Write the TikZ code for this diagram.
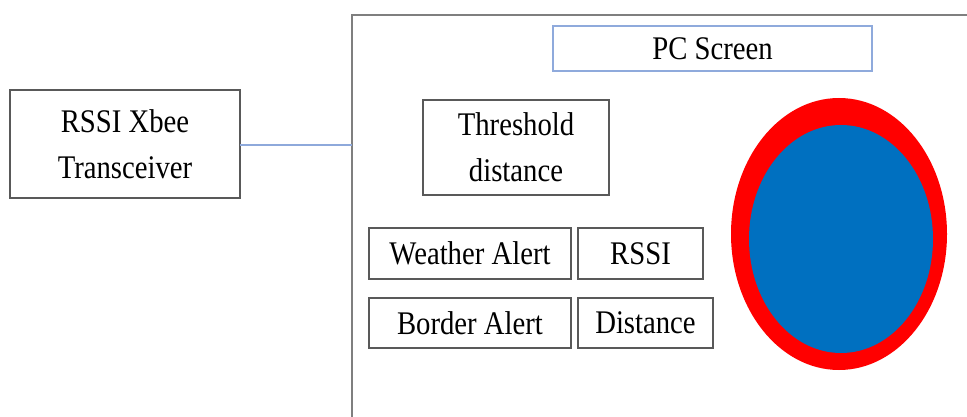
\documentclass[tikz,border=0pt]{standalone}
\usepackage{fontspec}
\setmainfont{Liberation Serif}[FakeStretch=0.87]
\usetikzlibrary{positioning}
\definecolor{boxgray}{HTML}{595959}
\definecolor{framegray}{HTML}{7F7F7F}
\definecolor{linkblue}{HTML}{8EA9DB}
\definecolor{screenblue}{HTML}{8FAADC}
\definecolor{ringred}{HTML}{FF0000}
\definecolor{discblue}{HTML}{0070C0}
\begin{document}
\begin{tikzpicture}[x=1pt,y=-1pt,
  txt/.style={font=\fontsize{33}{46}\selectfont, align=center, inner sep=0pt},
  tbox/.style={draw=boxgray, line width=1.4pt, fill=white},
  ]
\useasboundingbox (0,0) rectangle (967,417);
% frame of the PC screen area
\draw[framegray, line width=1.8pt] (352,417) -- (352,15) -- (967,15);
\coordinate (frameL) at (352,145);
% boxes
\draw[tbox] (10,90) rectangle (240,198);
\node[txt] (xbee) at (125,144) {RSSI Xbee\\Transceiver};
\coordinate (xbeeE) at (240,145);
\draw[draw=screenblue, line width=1.4pt, fill=white] (553,26) rectangle (872,71);
\node[txt] (screen) at (712.5,48.5) {PC Screen};
\draw[tbox] (423,100) rectangle (609,195);
\node[txt] (thr) at (516,147) {Threshold\\distance};
\draw[tbox] (369,228) rectangle (571,279);
\node[txt] (weather) at (470,253.5) {Weather Alert};
\draw[tbox] (578,228) rectangle (703,279);
\node[txt] (rssi) at (640.5,253.5) {RSSI};
\draw[tbox] (369,298) rectangle (571,348);
\node[txt] (border) at (470,323) {Border Alert};
\draw[tbox] (578,298) rectangle (713,348);
\node[txt] (dist) at (645.5,323) {Distance};
% connector
\draw[linkblue, line width=1.4pt] (xbeeE) -- (frameL);
% indicator disc
\fill[ringred] (839,234) ellipse [x radius=108, y radius=136];
\fill[discblue] (841,239) ellipse [x radius=92, y radius=114];
\end{tikzpicture}
\end{document}
